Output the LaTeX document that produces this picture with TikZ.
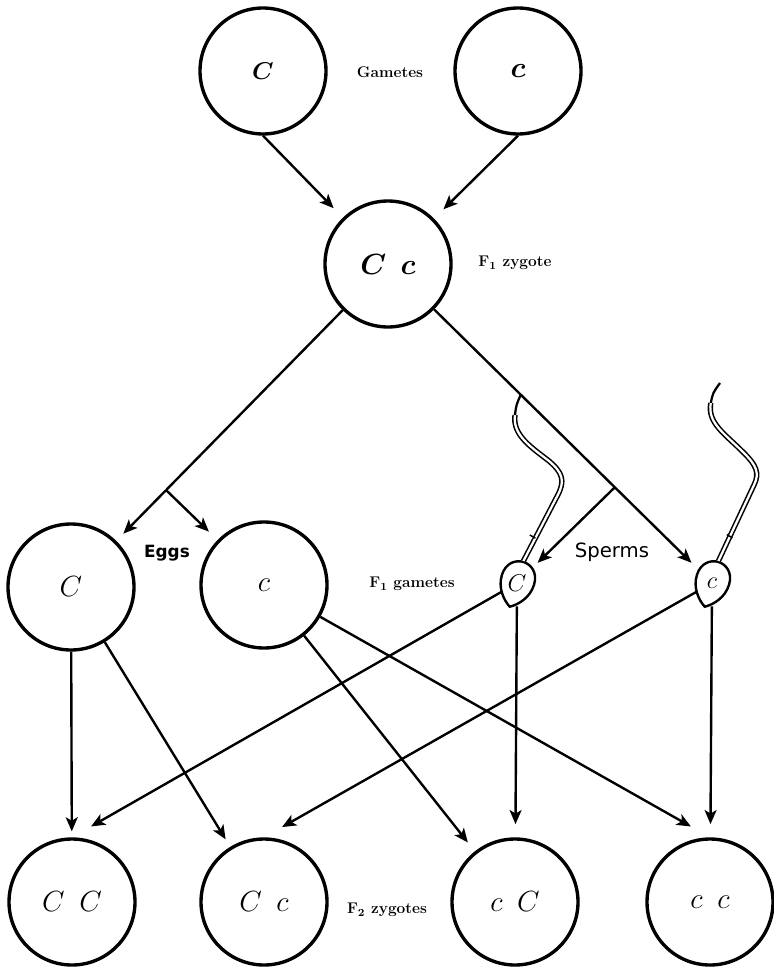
\documentclass[tikz,border=0pt]{standalone}
\usepackage{fontspec}
\newfontfamily\handsans{DejaVu Sans}
\usetikzlibrary{arrows.meta,calc,shapes.geometric}

\begin{document}
\begin{tikzpicture}[>={Stealth[length=10pt,width=8.5pt,inset=2.5pt]}]
      \useasboundingbox (0,0) rectangle (19.35,-24.225);
      \begin{scope}[every node/.style={circle,draw,line width=2.4pt,minimum size=3.15cm,inner sep=0pt,font=\huge}]
        \node[font=\LARGE\boldmath] (G1) at (6.575,-1.775) {$C$};
        \node[font=\huge\boldmath] (G2) at (12.95,-1.775) {$c$};
        \node[font=\huge\boldmath] (Z) at (9.7,-6.6) {$C\enspace c$};
        \node (E1) at (1.775,-14.675) {$C$};
        \node (E2) at (6.6,-14.625) {$c$};
        \node (B1) at (1.8,-22.55) {$C\enspace C$};
        \node (B2) at (6.6,-22.55) {$C\enspace c$};
        \node (B3) at (12.875,-22.55) {$c\enspace C$};
        \node (B4) at (17.75,-22.55) {$c\enspace c$};
      \end{scope}
      \begin{scope}[every node/.style={ellipse,minimum width=0.8cm,minimum height=1.15cm,inner sep=0pt,font=\LARGE}]
        \node (S1) at (12.925,-14.575) {$C$};
        \node (S2) at (17.8,-14.575) {$c$};
      \end{scope}
      % sperm heads and tails
      \foreach \s in {S1,S2}
        \draw[line width=1.7pt,shift={(\s)},rotate=-17] (0,-0.62) .. controls (-0.2,-0.5) and (-0.42,-0.25) .. (-0.42,0.08)
          .. controls (-0.42,0.4) and (-0.2,0.55) .. (0,0.55) .. controls (0.2,0.55) and (0.42,0.4) .. (0.42,0.08)
          .. controls (0.42,-0.25) and (0.2,-0.5) .. (0,-0.62) -- cycle;
      \begin{scope}[shift={(S1)}]
        \draw[line width=1.1pt,double,double distance=1.6pt] (0.16,0.55) -- (1.02,2.2) .. controls (1.2,2.55) and (1.15,2.75) .. (0.8,3.05)
          .. controls (0.35,3.4) and (-0.12,3.7) .. (-0.05,4.2);
        \draw[line width=1.6pt] (-0.05,4.2) .. controls (-0.02,4.45) .. (0.1,4.72);
        \draw[line width=1pt] (0.32,1.2) -- (0.46,1.12);
      \end{scope}
      \begin{scope}[shift={(S2)}]
        \draw[line width=1.1pt,double,double distance=1.6pt] (0.16,0.55) -- (1.05,2.45) .. controls (1.2,2.75) and (1.1,2.95) .. (0.8,3.25)
          .. controls (0.3,3.75) and (-0.12,4.0) .. (-0.03,4.5);
        \draw[line width=1.6pt] (-0.03,4.5) .. controls (0.02,4.75) .. (0.2,5.0);
        \draw[line width=1pt] (0.37,1.21) -- (0.51,1.13);
      \end{scope}
      \coordinate (eggfork) at ($(Z)!0.7!(E1)$);
      \coordinate (spermfork) at ($(Z)!0.7!(S2)$);
      \draw[line width=1.7pt] (Z) -- (eggfork);
      \begin{scope}
        [every edge/.style={draw,line width=1.7pt,->,shorten >=0.25cm}]
        \path (G1.south) edge[shorten >=0.33cm] (Z);
        \path (G2.south) edge[shorten >=0.33cm] (Z);
        \path (eggfork) edge (E1);
        \path (eggfork) edge[shorten >=0.3cm] (E2);
        \path (Z) edge (S2);
        \path (spermfork) edge (S1);
        \path (E1) edge[shorten >=0.15cm] (B1);
        \path (E1) edge[shorten >=0.22cm] (B2);
        \path (E2) edge[shorten >=0.28cm] (B3);
        \path (E2) edge[shorten >=0.55cm] (B4.north);
        \path (S1) edge[shorten >=0.55cm] (B1.north);
        \path (S2) edge[shorten >=0.52cm] (B2.north);
        \path (S1) edge[shorten >=0.33cm] (B3);
        \path (S2) edge[shorten >=0.33cm] (B4);
      \end{scope}
      \begin{scope}[every node/.style={font=\bfseries\fontsize{11}{13}\selectfont}]
        \node (gam) at (9.75,-1.8) {Gametes};
        \node (f1z) at (12.875,-6.575) {F\textsubscript{1} zygote};
        \node (f1g) at (10.3,-14.6) {F\textsubscript{1} gametes};
        \node (f2z) at (9.675,-22.75) {F\textsubscript{2} zygotes};
      \end{scope}
      \node[font=\handsans\bfseries\fontsize{12}{14}\selectfont] (eggs) at (4.175,-13.825) {Eggs};
      \node[font=\handsans\fontsize{14}{16}\selectfont] (sperms) at (15.3,-13.8) {Sperms};
    \end{tikzpicture}
\end{document}
